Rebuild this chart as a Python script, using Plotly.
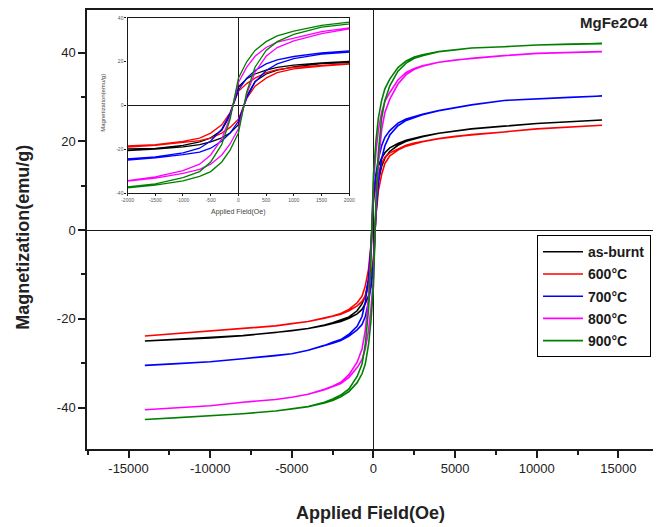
import plotly.graph_objects as go

# Applied field grid (Oe): descending sweep, then the ascending sweep back
FIELD_DOWN = [14000, 12000, 10000, 8000, 6000, 5000, 4000, 3000, 2500, 2000, 1500,
              1000, 700, 500, 300, 150, 0, -150, -300, -500, -700, -1000, -1500,
              -2000, -2500, -3000, -4000, -5000, -6000, -8000, -10000, -12000, -14000]
FIELD_UP = list(reversed(FIELD_DOWN))

SAMPLES = ["as-burnt", "600\u00b0C", "700\u00b0C", "800\u00b0C", "900\u00b0C"]
COLORS = ["#000000", "#FF0000", "#0000FF", "#FF00FF", "#008000"]

# Magnetization (emu/g) on the descending branch
M_DOWN_ASBURNT = [24.8, 24.4, 24.0, 23.4, 22.8, 22.3, 21.8, 21.1, 20.7, 20.2, 19.5,
                  18.5, 17.4, 16.2, 14.4, 12.2, 8.5, -4.4, -11.3, -14.8, -16.6, -18.2, -19.6,
                  -20.3, -20.9, -21.4, -22.2, -22.7, -23.1, -23.8, -24.3, -24.7, -25.0]
M_DOWN_600 = [23.6, 23.2, 22.8, 22.1, 21.5, 21.1, 20.6, 20.0, 19.6, 19.1, 18.3,
              17.4, 16.4, 15.0, 12.5, 10.0, 6.5, -3.2, -8.8, -12.6, -14.9, -16.4, -17.9,
              -18.8, -19.4, -19.8, -20.6, -21.1, -21.6, -22.2, -22.8, -23.3, -23.9]
M_DOWN_700 = [30.2, 29.9, 29.6, 29.2, 28.2, 27.6, 26.9, 26.1, 25.6, 25.0, 24.1,
              22.4, 20.9, 19.0, 16.0, 12.5, 7.0, -3.6, -10.8, -16.2, -19.5, -21.7, -23.5,
              -24.7, -25.3, -26.0, -27.1, -27.9, -28.3, -29.0, -29.7, -30.1, -30.5]
M_DOWN_800 = [40.2, 40.0, 39.8, 39.3, 38.7, 38.3, 37.8, 37.0, 36.4, 35.5, 33.8,
              31.0, 29.0, 26.5, 22.5, 17.5, 10.5, -5.3, -15.3, -22.6, -26.8, -29.8, -32.6,
              -34.3, -35.2, -35.9, -37.0, -37.7, -38.2, -38.8, -39.6, -40.1, -40.5]
M_DOWN_900 = [42.0, 41.9, 41.7, 41.3, 41.0, 40.6, 40.2, 39.5, 39.0, 38.1, 36.6,
              34.0, 31.8, 29.2, 25.2, 20.0, 12.5, -6.3, -17.8, -25.8, -30.2, -33.0, -35.8,
              -37.2, -38.1, -38.8, -39.8, -40.3, -40.8, -41.4, -41.9, -42.3, -42.7]

# Magnetization (emu/g) on the ascending branch
M_UP_ASBURNT = [-25.0, -24.7, -24.3, -23.8, -23.1, -22.7, -22.2, -21.5, -21.1, -20.6, -19.9,
                -18.9, -17.9, -16.6, -14.8, -12.6, -8.8, 4.2, 11.0, 14.4, 16.2, 17.7, 19.1,
                20.0, 20.5, 21.0, 21.8, 22.3, 22.8, 23.4, 24.0, 24.4, 24.8]
M_UP_600 = [-23.9, -23.3, -22.8, -22.2, -21.6, -21.1, -20.6, -19.9, -19.5, -19.0, -18.2,
            -17.1, -16.1, -14.9, -12.6, -10.0, -6.3, 3.2, 8.8, 12.5, 15.0, 16.7, 18.0,
            18.9, 19.4, 19.9, 20.6, 21.1, 21.5, 22.1, 22.8, 23.2, 23.6]
M_UP_700 = [-30.5, -30.1, -29.7, -29.0, -28.3, -27.9, -27.1, -26.1, -25.5, -24.9, -23.9,
            -22.5, -21.3, -19.5, -16.2, -12.6, -7.2, 3.5, 10.7, 16.0, 19.0, 21.4, 23.5,
            24.7, 25.4, 26.0, 26.9, 27.6, 28.2, 29.2, 29.6, 29.9, 30.2]
M_UP_800 = [-40.5, -40.1, -39.6, -38.8, -38.2, -37.7, -37.0, -36.0, -35.3, -34.6, -33.2,
            -31.0, -29.2, -26.8, -22.6, -17.6, -10.6, 5.2, 15.2, 22.5, 26.5, 29.5, 32.9,
            35.0, 36.2, 36.9, 37.8, 38.3, 38.7, 39.3, 39.8, 40.0, 40.2]
M_UP_900 = [-42.7, -42.3, -41.9, -41.4, -40.8, -40.3, -39.8, -39.0, -38.4, -37.6, -36.4,
            -34.4, -32.4, -30.2, -25.8, -20.4, -12.6, 6.2, 17.5, 25.2, 29.2, 32.5, 35.8,
            37.6, 38.7, 39.3, 40.2, 40.6, 41.0, 41.3, 41.7, 41.9, 42.0]

M_DOWN = [M_DOWN_ASBURNT, M_DOWN_600, M_DOWN_700, M_DOWN_800, M_DOWN_900]
M_UP = [M_UP_ASBURNT, M_UP_600, M_UP_700, M_UP_800, M_UP_900]

MAIN_X_TICKS = [-15000, -10000, -5000, 0, 5000, 10000, 15000]
MAIN_X_LABELS = ["-15000", "-10000", "-5000", "0", "5000", "10000", "15000"]
MAIN_Y_TICKS = [-40, -20, 0, 20, 40]
MAIN_Y_LABELS = ["-40", "-20", "0", "20", "40"]
INSET_X_TICKS = [-2000, -1500, -1000, -500, 0, 500, 1000, 1500, 2000]
INSET_X_LABELS = ["-2000", "-1500", "-1000", "-500", "0", "500", "1000", "1500", "2000"]
INSET_Y_TICKS = [-40, -20, 0, 20, 40]
INSET_Y_LABELS = ["-40", "-20", "0", "20", "40"]

FONT = "Liberation Sans"
AXIS_COLOR = "#1a1a1a"

fig = go.Figure()

for name, color, down, up in zip(SAMPLES, COLORS, M_DOWN, M_UP):
    loop_h = FIELD_DOWN + FIELD_UP
    loop_m = down + up
    fig.add_trace(go.Scatter(
        x=loop_h, y=loop_m, mode="lines", name=name, legendgroup=name,
        line=dict(color=color, width=1.6), xaxis="x", yaxis="y"))
    fig.add_trace(go.Scatter(
        x=loop_h, y=loop_m, mode="lines", name=name, legendgroup=name,
        showlegend=False, line=dict(color=color, width=1.3), xaxis="x2", yaxis="y2"))

fig.update_layout(
    width=659, height=527,
    margin=dict(l=87, r=0, t=10, b=78),
    paper_bgcolor="white", plot_bgcolor="white",
    font=dict(family=FONT, color=AXIS_COLOR),
    showlegend=True,
    legend=dict(
        x=0.9965, xanchor="right", y=0.487, yanchor="top",
        bgcolor="white", bordercolor="#000000", borderwidth=1,
        font=dict(family=FONT, size=14, color="#1a1a1a", weight="bold"),
        tracegroupgap=1, itemwidth=40,
    ),
    xaxis=dict(
        domain=[0, 1], range=[-17545, 17121],
        tickmode="array", tickvals=MAIN_X_TICKS, ticktext=MAIN_X_LABELS,
        ticks="outside", ticklen=7, tickwidth=1.5, tickcolor=AXIS_COLOR,
        minor=dict(dtick=2500, tick0=0, ticks="outside", ticklen=4, tickwidth=1.5,
                   tickcolor=AXIS_COLOR),
        tickfont=dict(size=13, color="#222222"),
        showline=True, linewidth=1.5, linecolor=AXIS_COLOR, mirror=True,
        zeroline=True, zerolinecolor=AXIS_COLOR, zerolinewidth=1.3,
        showgrid=False,
    ),
    yaxis=dict(
        domain=[0, 1], range=[-49.35, 49.58],
        tickmode="array", tickvals=MAIN_Y_TICKS, ticktext=MAIN_Y_LABELS,
        ticks="outside", ticklen=7, tickwidth=1.5, tickcolor=AXIS_COLOR,
        minor=dict(dtick=10, tick0=0, ticks="outside", ticklen=4, tickwidth=1.5,
                   tickcolor=AXIS_COLOR),
        tickfont=dict(size=13, color="#222222"),
        showline=True, linewidth=1.5, linecolor=AXIS_COLOR, mirror=False,
        zeroline=True, zerolinecolor=AXIS_COLOR, zerolinewidth=1.3,
        showgrid=False,
    ),
    xaxis2=dict(
        domain=[0.0717, 0.4633], anchor="y2", range=[-2000, 2000],
        tickmode="array", tickvals=INSET_X_TICKS, ticktext=INSET_X_LABELS,
        ticks="outside", ticklen=2, tickwidth=1, tickcolor=AXIS_COLOR,
        tickfont=dict(size=5, color="#555555"),
        showline=True, linewidth=1.3, linecolor=AXIS_COLOR, mirror=True,
        zeroline=True, zerolinecolor=AXIS_COLOR, zerolinewidth=1.2,
        showgrid=False,
    ),
    yaxis2=dict(
        domain=[0.5831, 0.9818], anchor="x2", range=[-40, 40],
        tickmode="array", tickvals=INSET_Y_TICKS, ticktext=INSET_Y_LABELS,
        ticks="outside", ticklen=2, tickwidth=1, tickcolor=AXIS_COLOR,
        tickfont=dict(size=5, color="#555555"),
        showline=True, linewidth=1.3, linecolor=AXIS_COLOR, mirror=True,
        zeroline=True, zerolinecolor=AXIS_COLOR, zerolinewidth=1.2,
        showgrid=False,
    ),
    annotations=[
        dict(text="<b>Applied Field(Oe)</b>", xref="paper", yref="paper",
             x=(373 - 87) / 572, y=(449 - 513) / 439, xanchor="center", yanchor="middle",
             showarrow=False, font=dict(family=FONT, size=18, color="#222222")),
        dict(text="<b>Magnetization(emu/g)</b>", xref="paper", yref="paper",
             x=(22 - 87) / 572, y=(449 - 237) / 439, xanchor="center", yanchor="middle",
             textangle=-90, showarrow=False, font=dict(family=FONT, size=18, color="#222222")),
        dict(text="<b>MgFe2O4</b>", xref="paper", yref="paper",
             x=(620 - 87) / 572, y=(449 - 23) / 439, xanchor="center", yanchor="middle",
             showarrow=False, font=dict(family=FONT, size=15, color="#222222")),
        dict(text="Applied Field(Oe)", xref="paper", yref="paper",
             x=(240 - 87) / 572, y=(449 - 212) / 439, xanchor="center", yanchor="middle",
             showarrow=False, font=dict(family=FONT, size=7, color="#444444")),
        dict(text="Magnetization(emu/g)", xref="paper", yref="paper",
             x=(103 - 87) / 572, y=(449 - 103) / 439, xanchor="center", yanchor="middle",
             textangle=-90, showarrow=False, font=dict(family=FONT, size=6, color="#444444")),
    ],
)

fig.write_html("out.html")
